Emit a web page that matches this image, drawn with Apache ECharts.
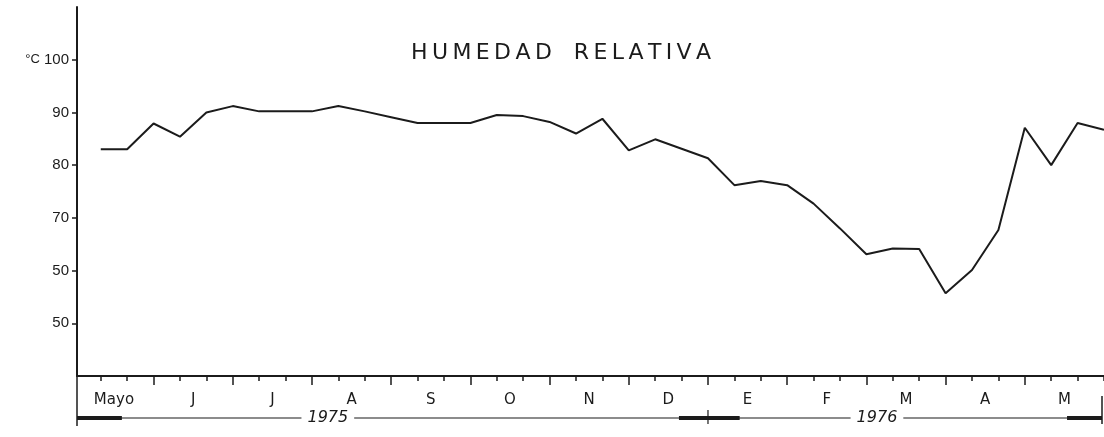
<!DOCTYPE html>
<html>
<head>
<meta charset="utf-8">
<title>Humedad relativa</title>
<script src="https://cdn.jsdelivr.net/npm/echarts@6/dist/echarts.min.js"></script>
<style>
  html, body { margin: 0; padding: 0; background: #fff; }
  #main { width: 1104px; height: 437px; }
</style>
</head>
<body>
<div id="main"></div>
<script>
// humedad relativa, tres valores por mes (decenas), mayo 1975 - mayo 1976
var humedad = [83.0, 83.0, 87.9, 85.4, 90.0, 91.2, 90.2, 90.2, 90.2, 91.2,
               90.2, 89.1, 88.0, 88.0, 88.0, 89.5, 89.3, 88.2, 86.0, 88.8,
               82.8, 84.9, 83.1, 81.3, 76.2, 77.0, 76.2, 72.7, 68.0, 63.1,
               64.2, 64.1, 55.7, 60.1, 67.7, 87.1, 80.0, 88.0, 86.7];
var meses = ['Mayo', 'J', 'J', 'A', 'S', 'O', 'N', 'D', 'E', 'F', 'M', 'A', 'M'];
var anios = ['1975', '1976'];
var yTicks = [50, 60, 70, 80, 90, 100];
var yTickLabels = ['50', '50', '70', '80', '90', '100'];   // tal cual en la lamina
var titulo = 'HUMEDAD RELATIVA';

var INK = '#1b1b1b';
var FONT = 'DejaVu Sans';

var serie = humedad.map(function (v, i) { return [i, v]; });

// posiciones de marcas y etiquetas del eje x (en unidades de decena)
var decenas = [], limitesMes = [], centrosMes = [];
for (var i = 0; i < humedad.length; i++) decenas.push(i);
for (var k = 0; k < meses.length; k++) {
    centrosMes.push(k * 3 + 0.5);
    if (k < meses.length - 1) limitesMes.push(k * 3 + 2);
}

// letras espaciadas como en el rotulo
var tituloEsp = titulo.split(' ').map(function (w) {
    return w.split('').join('\u2009');
}).join('\u2002\u2002');

var dom = document.getElementById('main');
var chart = echarts.init(dom);

var X_MIN = -0.9, X_MAX = humedad.length - 1;

var option = {
    animation: false,
    backgroundColor: '#fff',
    title: {
        text: tituloEsp,
        left: 406,
        top: 37,
        textStyle: { fontFamily: FONT, fontSize: 22, fontWeight: 'normal', color: INK }
    },
    grid: { left: 77, right: 0, top: 7, bottom: 61 },
    xAxis: [
        {
            type: 'value',
            position: 'bottom',
            min: X_MIN,
            max: X_MAX,
            axisLine: { show: true, onZero: false, lineStyle: { color: INK, width: 2 } },
            axisTick: { show: true, customValues: decenas, length: 5, lineStyle: { color: INK, width: 1.5 } },
            axisLabel: {
                show: true,
                customValues: centrosMes,
                margin: 17,
                fontFamily: FONT,
                fontSize: 15,
                color: INK,
                formatter: function (v) {
                    var k = Math.round((v - 0.5) / 3);
                    return meses[k] || '';
                }
            },
            splitLine: { show: false }
        },
        {
            type: 'value',
            position: 'bottom',
            min: X_MIN,
            max: X_MAX,
            axisLine: { show: false, onZero: false },
            axisTick: { show: true, customValues: limitesMes, length: 9, lineStyle: { color: INK, width: 1.5 } },
            axisLabel: { show: false },
            splitLine: { show: false }
        }
    ],
    yAxis: {
        type: 'value',
        min: 40,
        max: 110,
        axisLine: { show: true, onZero: false, lineStyle: { color: INK, width: 2 } },
        axisTick: { show: true, customValues: yTicks, length: 5, lineStyle: { color: INK, width: 1.5 } },
        axisLabel: {
            show: true,
            customValues: yTicks,
            margin: 8,
            fontFamily: 'Liberation Sans',
            fontSize: 15,
            color: INK,
            formatter: function (v) {
                var i = yTicks.indexOf(v);
                if (i < 0) return '';
                if (v === 100) return '{u|\u00b0C} ' + yTickLabels[i];
                return yTickLabels[i];
            },
            rich: {
                u: { fontFamily: 'Liberation Sans', fontSize: 13, color: INK }
            }
        },
        splitLine: { show: false }
    },
    series: [
        {
            name: 'Humedad relativa',
            type: 'line',
            data: serie,
            showSymbol: false,
            symbol: 'none',
            lineStyle: { color: INK, width: 2 },
            clip: false
        }
    ]
};

chart.setOption(option, true);

// fila de años con flechas, ubicada con la escala del eje x
function px(i) { return chart.convertToPixel({ xAxisIndex: 0 }, i); }
var yAxe = 376, yAnio = 418;
var corte = 23;   // paso diciembre / enero
var xIni = px(X_MIN), xFin = px(X_MAX) - 2, xCorte = px(corte);

function seg(x1, y1, x2, y2, w) {
    return { type: 'line', shape: { x1: x1, y1: y1, x2: x2, y2: y2 }, style: { stroke: INK, lineWidth: w } };
}
function txt(x, s) {
    return {
        type: 'text', x: x, y: yAnio,
        style: {
            text: s, fill: INK, font: 'italic 16px ' + FONT,
            align: 'center', verticalAlign: 'middle',
            backgroundColor: '#fff', padding: [0, 6]
        }
    };
}

chart.setOption({
    graphic: [
        seg(xIni, yAnio, xFin, yAnio, 1.2),
        seg(xIni, yAnio, px(0.8), yAnio, 4),
        seg(px(21.9), yAnio, xCorte, yAnio, 4),
        seg(xCorte, yAnio, px(24.2), yAnio, 4),
        seg(px(36.6), yAnio, xFin, yAnio, 4),
        seg(xIni, yAxe, xIni, yAnio + 8, 1.5),
        seg(xCorte, yAnio - 8, xCorte, yAnio + 6, 1.2),
        seg(xFin, yAnio - 22, xFin, yAnio + 6, 1.5),
        txt(px(8.6), anios[0]),
        txt(px(29.4), anios[1])
    ]
});

window.onresize = function () {
    chart.resize();
};
</script>
</body>
</html>
